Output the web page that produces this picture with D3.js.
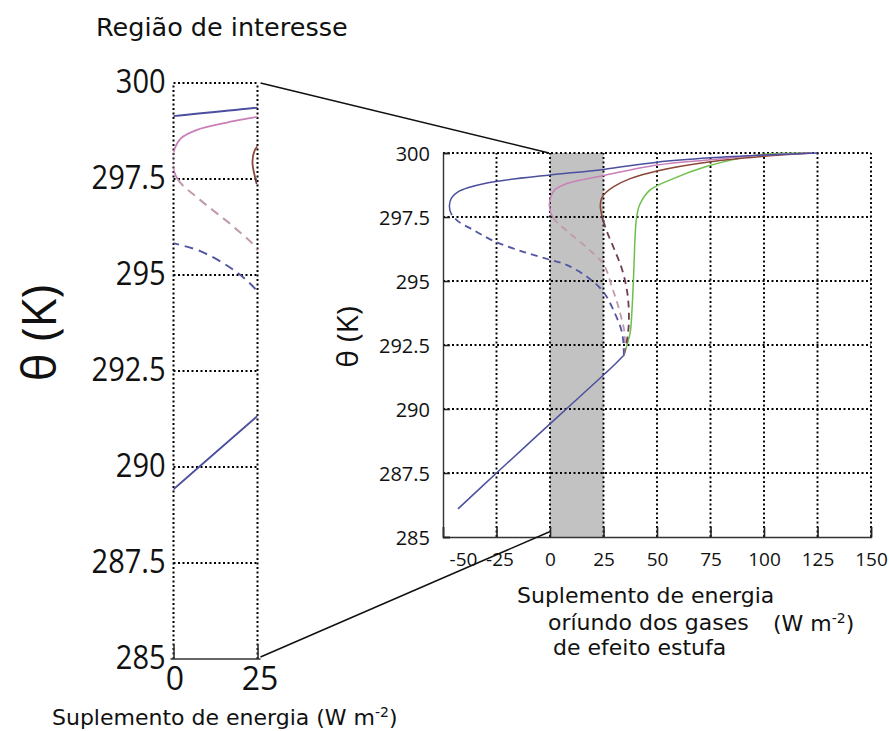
<!DOCTYPE html>
<html>
<head>
<meta charset="utf-8">
<script src="https://cdn.jsdelivr.net/npm/d3@7"></script>
<style>
  html, body { margin: 0; padding: 0; background: #fff; }
  svg { display: block; }
</style>
</head>
<body>
<svg id="chart" width="889" height="731"></svg>
<script>
// ---- data (energy supplement in W m^-2, potential temperature in K) ----
const xTicksMain = [-50, -25, 0, 25, 50, 75, 100, 125, 150];
const xTicksZoom = [0, 25];
const yTicks = [285, 287.5, 290, 292.5, 295, 297.5, 300];
const bandRange = [0, 25];

// shared lower branch
const baseLine = [[-43, 286.1], [-25, 287.5], [0, 289.42], [25, 291.33], [30, 291.72], [34.5, 292.1]];

// green: single stable branch
const greenSolid = [[34.5, 292.1], [36, 292.5], [37.5, 293.0], [38.4, 294.0], [39.2, 295.5], [39.8, 296.8],
  [40.5, 297.5], [42, 298.0], [46.7, 298.55], [57.6, 299.0], [73, 299.47], [89, 299.8], [100, 299.95], [122, 300]];

// brown: unstable (dashed) part, then stable (solid) part
const brownDashed = [[34.5, 292.1], [35.8, 292.6], [36.8, 293.3], [36.6, 294.2], [35.6, 294.8], [33.5, 295.5],
  [30, 296.25], [26.5, 296.95], [24.4, 297.5]];
const brownSolid = [[24.4, 297.5], [23.5, 297.95], [24.2, 298.25], [26, 298.45], [30, 298.7], [37.5, 299.0],
  [50, 299.3], [75, 299.66], [100, 299.87], [122, 300]];

// pink
const pinkDashed = [[34.5, 292.1], [35, 292.6], [34.6, 293.1], [33.2, 293.6], [31.6, 294.1], [29.2, 294.7],
  [25, 295.65], [17.8, 296.26], [8, 296.95], [1.2, 297.5]];
const pinkSolid = [[1.2, 297.5], [-0.3, 297.95], [0.4, 298.3], [2.2, 298.56], [7, 298.78], [15.9, 298.97],
  [25, 299.12], [50, 299.53], [75, 299.74], [100, 299.92], [122, 300]];

// blue
const blueDashed = [[34.5, 292.1], [34.3, 292.6], [33.3, 293.1], [29.6, 293.87], [25, 294.57], [17.9, 295.13],
  [8, 295.62], [0, 295.83], [-12.5, 296.14], [-25.7, 296.54], [-35.8, 296.99], [-43.2, 297.35], [-46.3, 297.65]];
const blueSolid = [[-46.3, 297.65], [-47, 297.95], [-46, 298.25], [-43, 298.48], [-38, 298.65], [-30, 298.82],
  [-20, 298.95], [0, 299.14], [25, 299.36], [50, 299.64], [75, 299.81], [100, 299.92], [125, 300]];

const curves = [
  { dashed: [], solid: baseLine,   color: "#4b4f9e", dashColor: "#4b4f9e" },
  { dashed: [], solid: greenSolid, color: "#6cc04a", dashColor: "#6cc04a" },
  { dashed: brownDashed, solid: brownSolid, color: "#8a4636", dashColor: "#6e3e4e" },
  { dashed: pinkDashed,  solid: pinkSolid,  color: "#c97fb8", dashColor: "#c09aae" },
  { dashed: blueDashed,  solid: blueSolid,  color: "#4b4f9e", dashColor: "#5257a2" }
];

const svg = d3.select("#chart");
const gridDash = "2,2.5";
const numFont = "'Open Sans', 'Noto Sans', sans-serif";
const textFont = "'DejaVu Sans', sans-serif";
const line = d3.line().curve(d3.curveCatmullRom.alpha(0.5));

// Draws one branch family as a single smooth path: dashed up to the turning
// point, solid afterwards (built with a stroke-dasharray along the path).
function drawCurve(g, c, xs, ys, dash, gap, wSolid, wDash) {
  const full = c.dashed.length ? c.dashed.concat(c.solid.slice(1)) : c.solid;
  const path = g.append("path")
    .attr("d", line.x(d => xs(d[0])).y(d => ys(d[1]))(full))
    .attr("fill", "none").attr("stroke", c.color).attr("stroke-width", wSolid);
  if (!c.dashed.length) return;
  const node = path.node();
  const total = node.getTotalLength();
  const sp = c.dashed[c.dashed.length - 1];
  const tx = xs(sp[0]), ty = ys(sp[1]);
  let best = 0, bestD = Infinity;
  for (let l = 0; l <= total; l += 0.5) {
    const p = node.getPointAtLength(l);
    const dd = (p.x - tx) ** 2 + (p.y - ty) ** 2;
    if (dd < bestD) { bestD = dd; best = l; }
  }
  // dashed overlay for the unstable part
  const arr = [];
  let s = 0;
  while (s + dash + gap <= best) { arr.push(dash, gap); s += dash + gap; }
  arr.push(Math.max(best - s, 0.01), total + 10);
  g.append("path")
    .attr("d", path.attr("d"))
    .attr("fill", "none").attr("stroke", c.dashColor).attr("stroke-width", wDash)
    .attr("stroke-dasharray", arr.join(","));
  // solid part only beyond the turning point
  path.attr("stroke-dasharray", `0,${best},${total + 10},0`);
}

// ---------- main panel ----------
const x = d3.scaleLinear().domain([-50, 150]).range([443, 871]);
const y = d3.scaleLinear().domain([285, 300]).range([537, 153]);

const main = svg.append("g");
main.append("rect")
  .attr("x", x(bandRange[0])).attr("y", y(300))
  .attr("width", x(bandRange[1]) - x(bandRange[0]))
  .attr("height", y(285) - y(300))
  .attr("fill", "#c2c2c2");

// dotted grid
main.selectAll("line.vg").data(xTicksMain.slice(1)).join("line")
  .attr("x1", d => x(d)).attr("x2", d => x(d))
  .attr("y1", y(285)).attr("y2", y(300))
  .attr("stroke", "#000").attr("stroke-width", 1.9).attr("stroke-dasharray", gridDash);
main.selectAll("line.hg").data(yTicks.slice(1)).join("line")
  .attr("x1", x(-50)).attr("x2", x(150))
  .attr("y1", d => y(d)).attr("y2", d => y(d))
  .attr("stroke", "#000").attr("stroke-width", 1.9).attr("stroke-dasharray", gridDash);

// axes
const axB = d3.axisBottom(x).tickValues(xTicksMain).tickSize(-10).tickPadding(16)
  .tickFormat(d3.format("d"));
const gB = main.append("g").attr("transform", `translate(0,${y(285)})`).call(axB);
const axL = d3.axisLeft(y).tickValues(yTicks).tickSize(-7).tickPadding(13)
  .tickFormat(d => d % 1 === 0 ? d3.format("d")(d) : d3.format(".1f")(d));
const gL = main.append("g").attr("transform", `translate(${x(-50)},0)`).call(axL);
[gB, gL].forEach(g => {
  g.select(".domain").attr("stroke", "#333").attr("stroke-width", 1.4);
  g.selectAll(".tick line").attr("stroke", "#222").attr("stroke-width", 1.6);
  g.selectAll(".tick text").attr("fill", "#111").style("font-family", numFont);
});
gB.selectAll(".tick text").style("font-size", "19px")
  .text(d => d < 0 ? "-" + Math.abs(d) : d)
  .attr("dx", d => d === -50 ? 20 : (d === -25 ? 3 : 0));
gL.selectAll(".tick text").style("font-size", "20px").attr("dy", "0.36em");

// curves
const mainCurves = main.append("g");
curves.forEach(c => drawCurve(mainCurves, c, x, y, 7, 5, 1.5, 1.8));

// axis label
main.append("text")
  .attr("transform", `translate(346,337) rotate(-90)`)
  .attr("text-anchor", "middle").attr("dominant-baseline", "central")
  .style("font-family", numFont).style("font-size", "30px").attr("fill", "#111")
  .text("θ (K)");

const tMain = main.append("g").style("font-family", textFont).style("font-size", "22px").attr("fill", "#111");
tMain.append("text").attr("x", 517).attr("y", 603).text("Suplemento de energia");
tMain.append("text").attr("x", 548).attr("y", 630).text("oríundo dos gases");
tMain.append("text").attr("x", 553).attr("y", 655).text("de efeito estufa");
const wm = tMain.append("text").attr("x", 773).attr("y", 631);
wm.append("tspan").text("(W m");
wm.append("tspan").attr("dy", -8).style("font-size", "14px").text("-2");
wm.append("tspan").attr("dy", 8).text(")");

// ---------- zoomed panel ----------
const xz = d3.scaleLinear().domain([0, 25]).range([173.5, 257.5]);
const yz = d3.scaleLinear().domain([285, 300]).range([659, 83]);

const zoom = svg.append("g");
zoom.append("clipPath").attr("id", "zclip").append("rect")
  .attr("x", xz(0)).attr("y", yz(300)).attr("width", xz(25) - xz(0)).attr("height", yz(285) - yz(300));

zoom.selectAll("line.zv").data(xTicksZoom).join("line")
  .attr("x1", d => xz(d)).attr("x2", d => xz(d))
  .attr("y1", yz(285)).attr("y2", yz(300))
  .attr("stroke", "#000").attr("stroke-width", 2).attr("stroke-dasharray", gridDash);
zoom.selectAll("line.zh").data(yTicks.slice(1)).join("line")
  .attr("x1", xz(0)).attr("x2", xz(25))
  .attr("y1", d => yz(d)).attr("y2", d => yz(d))
  .attr("stroke", "#000").attr("stroke-width", 2).attr("stroke-dasharray", gridDash);

const zc = zoom.append("g").attr("clip-path", "url(#zclip)");
curves.forEach(c => drawCurve(zc, c, xz, yz, 9, 6, 1.8, 2));

const axZB = d3.axisBottom(xz).tickValues(xTicksZoom).tickSize(-15).tickPadding(8).tickFormat(d3.format("d"));
const gZB = zoom.append("g").attr("transform", `translate(0,${yz(285)})`).call(axZB);
gZB.select(".domain").attr("d", `M${xz(0) - 3},0H${xz(25) + 3}`).attr("stroke", "#333").attr("stroke-width", 1.6);
gZB.selectAll(".tick line").attr("stroke", "#333").attr("stroke-width", 1.6);
gZB.selectAll(".tick text").style("font-family", numFont).style("font-size", "32px").attr("fill", "#111")
  .attr("dx", d => d === 25 ? 2 : 1);

const axZL = d3.axisLeft(yz).tickValues(yTicks).tickSize(0).tickPadding(8)
  .tickFormat(d => d % 1 === 0 ? d3.format("d")(d) : d3.format(".1f")(d));
const gZL = zoom.append("g").attr("transform", `translate(${xz(0)},0)`).call(axZL);
gZL.select(".domain").remove();
gZL.selectAll(".tick text").style("font-family", numFont).style("font-size", "33px").attr("fill", "#111")
  .attr("x", -9).attr("dy", "0.3em").attr("transform", "scale(0.88,1)");

zoom.append("text")
  .attr("transform", `translate(38,333) rotate(-90)`)
  .attr("text-anchor", "middle").attr("dominant-baseline", "central")
  .style("font-family", numFont).style("font-size", "47px").attr("fill", "#111")
  .text("θ (K)");

zoom.append("text").attr("x", 96).attr("y", 36)
  .style("font-family", textFont).style("font-size", "25.5px").attr("fill", "#111")
  .text("Região de interesse");

const zt = zoom.append("text").attr("x", 52).attr("y", 725)
  .style("font-family", textFont).style("font-size", "22px").attr("fill", "#111");
zt.append("tspan").text("Suplemento de energia (W m");
zt.append("tspan").attr("dy", -8).style("font-size", "14px").text("-2");
zt.append("tspan").attr("dy", 8).text(")");

// ---------- connector lines between the two panels ----------
const links = [
  [[25, 300], [0, 300]],
  [[25, 285], [0, 285]]
];
svg.append("g").selectAll("line").data(links).join("line")
  .attr("x1", d => xz(d[0][0]) + 3).attr("y1", d => yz(d[0][1]) - (d[0][1] === 285 ? 2 : 0))
  .attr("x2", d => x(d[1][0]) - 1).attr("y2", d => y(d[1][1]) - (d[1][1] === 285 ? 5 : 0))
  .attr("stroke", "#111").attr("stroke-width", 1.5);
</script>
</body>
</html>
